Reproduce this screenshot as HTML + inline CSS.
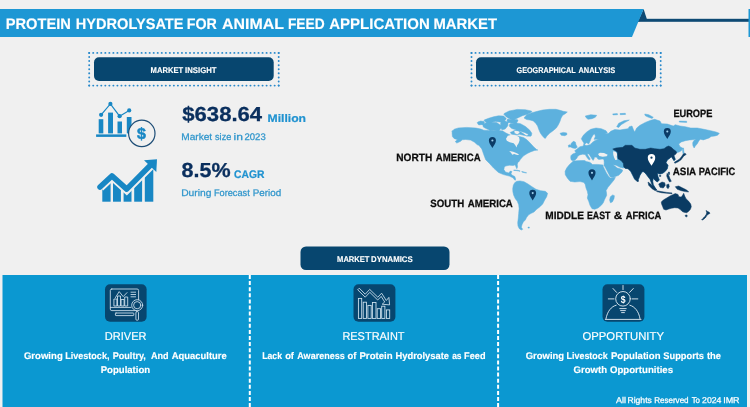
<!DOCTYPE html>
<html lang="en">
<head>
<meta charset="utf-8">
<title>Protein Hydrolysate for Animal Feed Application Market</title>
<style>
html,body{margin:0;padding:0;background:#f0f0f0;}
body{width:750px;height:407px;overflow:hidden;font-family:"Liberation Sans",sans-serif;}
svg{display:block;position:absolute;left:0;top:0;}
text{font-family:"Liberation Sans",sans-serif;text-rendering:geometricPrecision;}
.b{font-weight:700;}
</style>
</head>
<body>
<svg width="750" height="407" viewBox="0 0 750 407">
<rect width="750" height="407" fill="#f0f0f0"/>

<!-- HEADER -->
<g id="header">
<rect x="638" y="18.8" width="112" height="3" fill="#0e4a74"/>
<polygon points="637.8,21.8 643.6,9 646.9,19.2" fill="#0e4a74"/>
<polygon points="0,9 643.6,9 632,37 0,37" fill="#1d97d4"/>
<rect x="748.5" y="9" width="1.5" height="28" fill="#1d97d4"/>
<text y="29.4" class="b" font-size="15.2" fill="#fff" stroke="#fff" stroke-width="0.15" xml:space="preserve"><tspan x="5.72" textLength="65.17" lengthAdjust="spacingAndGlyphs">PROTEIN</tspan> <tspan x="75.85" textLength="107.61" lengthAdjust="spacingAndGlyphs">HYDROLYSATE</tspan> <tspan x="186.74" textLength="30.15" lengthAdjust="spacingAndGlyphs">FOR</tspan> <tspan x="222.0" textLength="61.68" lengthAdjust="spacingAndGlyphs">ANIMAL</tspan> <tspan x="287.88" textLength="36.7" lengthAdjust="spacingAndGlyphs">FEED</tspan> <tspan x="329.23" textLength="100.57" lengthAdjust="spacingAndGlyphs">APPLICATION</tspan> <tspan x="433.41" textLength="63.55" lengthAdjust="spacingAndGlyphs">MARKET</tspan></text>
</g>

<!-- SECTION PILLS -->
<g id="pills">
<path d="M89.2,52.9H278.7M89.2,85.6H278.7" fill="none" stroke="#2889cb" stroke-width="1.9" stroke-linecap="round" stroke-dasharray="0.1 3.932" stroke-dashoffset="0.05"/><path d="M89.2,52.9V85.6M278.7,52.9V85.6" fill="none" stroke="#2889cb" stroke-width="1.9" stroke-linecap="round" stroke-dasharray="0.1 3.987" stroke-dashoffset="0.05"/>
<rect x="94" y="57.2" width="179.7" height="23.7" rx="5" fill="#07466f"/>
<text y="73.0" class="b" font-size="8.2" fill="#fff" stroke="#fff" stroke-width="0.12" xml:space="preserve"><tspan x="150.59" textLength="32.59" lengthAdjust="spacingAndGlyphs">MARKET</tspan> <tspan x="185.08" textLength="31.4" lengthAdjust="spacingAndGlyphs">INSIGHT</tspan></text>

<path d="M471.5,52.9H660.7M471.5,85.6H660.7" fill="none" stroke="#2889cb" stroke-width="1.9" stroke-linecap="round" stroke-dasharray="0.1 3.926" stroke-dashoffset="0.05"/><path d="M471.5,52.9V85.6M660.7,52.9V85.6" fill="none" stroke="#2889cb" stroke-width="1.9" stroke-linecap="round" stroke-dasharray="0.1 3.987" stroke-dashoffset="0.05"/>
<rect x="476" y="57.2" width="180" height="23.7" rx="5" fill="#07466f"/>
<text y="73.0" class="b" font-size="8.2" fill="#fff" stroke="#fff" stroke-width="0.12" xml:space="preserve"><tspan x="516.5" textLength="59.12" lengthAdjust="spacingAndGlyphs">GEOGRAPHICAL</tspan> <tspan x="578.52" textLength="36.66" lengthAdjust="spacingAndGlyphs">ANALYSIS</tspan></text>

<rect x="300.5" y="246.5" width="149" height="23.5" rx="5.5" fill="#07466f"/>
<text y="262.0" class="b" font-size="8.2" fill="#fff" stroke="#fff" stroke-width="0.12" xml:space="preserve"><tspan x="337.09" textLength="32.39" lengthAdjust="spacingAndGlyphs">MARKET</tspan> <tspan x="371.08" textLength="41.63" lengthAdjust="spacingAndGlyphs">DYNAMICS</tspan></text>
</g>

<!-- STATS -->
<g id="stats">
<text y="120.9" class="b" font-size="20.3" fill="#0a2f5e" stroke="#0a2f5e" stroke-width="0.3" xml:space="preserve"><tspan x="182.31" textLength="79.81" lengthAdjust="spacingAndGlyphs">$638.64</tspan></text>
<text y="121.8" class="b" font-size="11.0" fill="#1f92d0" stroke="#1f92d0" stroke-width="0.2" xml:space="preserve"><tspan x="267.49" textLength="38.57" lengthAdjust="spacingAndGlyphs">Million</tspan></text>
<text y="139.8" font-size="9.6" fill="#3096cc" stroke="#3096cc" stroke-width="0.25" xml:space="preserve"><tspan x="181.27" textLength="30.9" lengthAdjust="spacingAndGlyphs">Market</tspan> <tspan x="215.05" textLength="16.26" lengthAdjust="spacingAndGlyphs">size</tspan> <tspan x="233.59" textLength="9.39" lengthAdjust="spacingAndGlyphs">in</tspan> <tspan x="244.52" textLength="21.2" lengthAdjust="spacingAndGlyphs">2023</tspan></text>
<text y="176.8" class="b" font-size="20.3" fill="#0a2f5e" stroke="#0a2f5e" stroke-width="0.3" xml:space="preserve"><tspan x="181.62" textLength="49.05" lengthAdjust="spacingAndGlyphs">8.5%</tspan></text>
<text y="177.6" class="b" font-size="11.0" fill="#1f92d0" stroke="#1f92d0" stroke-width="0.2" xml:space="preserve"><tspan x="233.98" textLength="30.44" lengthAdjust="spacingAndGlyphs">CAGR</tspan></text>
<text y="196.4" font-size="9.6" fill="#3096cc" stroke="#3096cc" stroke-width="0.25" xml:space="preserve"><tspan x="181.16" textLength="30.31" lengthAdjust="spacingAndGlyphs">During</tspan> <tspan x="213.94" textLength="35.82" lengthAdjust="spacingAndGlyphs">Forecast</tspan> <tspan x="252.79" textLength="28.44" lengthAdjust="spacingAndGlyphs">Period</tspan></text>
</g>


<!-- STAT ICONS -->
<g id="icon-market" fill="#1887c4">
<rect x="98.7" y="119.2" width="4.6" height="14.2"/>
<rect x="108.1" y="112.6" width="4.9" height="20.8"/>
<rect x="117.5" y="121.5" width="4.5" height="11.9"/>
<rect x="126.8" y="117" width="4.7" height="16.4"/>
<rect x="96.1" y="134.4" width="30.2" height="2.5"/>
<polyline points="101.1,114.8 110.4,103.9 119.6,116.2 129.2,110.4" fill="none" stroke="#1887c4" stroke-width="1.2"/>
<circle cx="101.1" cy="114.8" r="2.1"/><circle cx="110.4" cy="103.9" r="2.1"/><circle cx="119.6" cy="116.2" r="2.1"/><circle cx="129.2" cy="110.4" r="2.1"/>
<circle cx="141.8" cy="133.4" r="13.2" fill="#f0f0f0" stroke="#1d4d76" stroke-width="1.2"/>
<text x="141.4" y="139.2" class="b" font-size="16" text-anchor="middle" fill="#1887c4" stroke="#1887c4" stroke-width="0.5">$</text>
</g>
<g id="icon-cagr" fill="#1887c4">
<rect x="102.3" y="180" width="8.3" height="21.7"/>
<rect x="113" y="180" width="7.9" height="21.7"/>
<rect x="123.6" y="186" width="7.9" height="15.7"/>
<rect x="134.2" y="178" width="7.9" height="23.7"/>
<rect x="144.8" y="168" width="8.5" height="33.7"/>
<polyline points="100,187.1 111.9,175.9 126.7,189.1 151.5,164.5" fill="none" stroke="#f0f0f0" stroke-width="9.2" stroke-linejoin="miter" stroke-linecap="butt"/>
<polyline points="100,187.1 111.9,175.9 126.7,189.1 150.4,165.3" fill="none" stroke="#1887c4" stroke-width="5.5" stroke-linejoin="round" stroke-linecap="round"/>
<polygon points="144,160.2 157,159.3 156.3,171.9"/>
</g>

<!-- MAP -->
<g id="map">
<path d="M452,131.4 454.2,129.2 458.4,127.9 466.7,127.4 475.9,128 480.9,129.1 483.8,130.2 488.5,130.6 493.5,129.9 498.5,130.4 502.7,130.9 506,133.1 510.2,135.1 515.2,135.4 519.4,136.4 523.6,137.6 526.9,139.7 530.2,143.1 533.6,146.8 536.9,149.8 537.9,150 534.4,150.5 530.4,152 527.3,153.5 523.3,156 520.3,159.6 518.8,161.9 518.2,161.7 517.3,164.2 517.5,167.1 516.8,168.7 515.7,166.3 515,164.8 513.3,165.5 509.3,165.2 505.4,166.1 504.3,167.3 503.9,169.6 505.4,172 508.8,173 510.3,171.1 511.9,171.5 510.9,174 512.8,175.5 514.8,176.5 515.6,178.9 515.4,180.2 514.2,179.6 513.2,177.9 509.3,176.1 503.4,174.6 498.5,172.5 493.6,168.1 489.7,163.7 485.7,159.7 483.8,154.8 481.8,148.9 478.8,145.2 477.3,144.8 474.5,142.2 470.6,140.1 465.7,139.5 462.2,139.8 460.7,141.2 456.8,143.1 455.2,141.6 457.5,139.7 454,138.4 452.4,136.5 452.1,133 452.3,130.6ZM504,114.6 506.4,117 510.1,119 514.4,119.5 522.4,115.7 527.9,114.1 531.4,112.3 531.8,111.9 531.7,111.3 531.3,111 525.4,109.7 517.2,109.4 509.1,111 504.2,113.5 503.8,114ZM484.1,120.6 486.3,122.8 486.9,123 495.7,121.4 499.7,122 503.8,121.4 506,119.3 506.2,118.8 506,118.3 504,116.3 503.5,116.1 498.5,115.8 493.5,116.8 488.6,118.3 484.6,119.8 484.2,120.1ZM482.7,124.6 483.2,126.8 483.6,127.2 486.5,128.8 490.4,130.5 494.7,130.1 498.7,130.6 499.4,130.3 501.2,128 501.2,127.3 500.2,124.9 496.7,122.6 491.6,122.2 486.7,122.7 483.2,123.7 482.8,124ZM500.7,122.4 500.5,126.2 501.5,129.3 501.9,129.7 502.3,129.8 505.2,129 507.8,125.8 508.1,122.4 504.8,120.8 504.3,120.7 501.2,121.7ZM507,120.2 507.4,121.9 508,122.4 511.4,123 516.3,122.9 516.9,122.5 517.9,120.7 517.9,120.1 517.4,119.7 512.3,118.7 507.6,119.3 507.1,119.6ZM509.7,124.2 509.3,125.7 509.5,126.4 511.8,128.5 515.1,129.5 519,131 522.8,133.3 526.7,136.1 530.6,136.2 531.3,135.7 531.8,133.7 531.7,133.1 529.6,130.1 525.5,126.5 520.5,123.7 515.2,122.7 510.3,123.7ZM514.1,131.2 514.4,133.1 514.8,133.6 517,134.6 517.7,134.5 519.5,133 519.8,132.6 519.7,132.1 518.4,130.2 517.7,129.9 514.7,130.4 514.2,130.7ZM477.4,123.1 478.3,124.6 479,124.9 483,124.4 483.5,124.1 484.6,122.1 484,121.5 480.7,121 477.8,122 477.3,122.5ZM510.2,132.4 514.7,130.4 519.6,130.9 524.5,132.4 528.4,134.3 527.4,135.8 523.5,135.3 519.6,134.3 515.6,134.8 511.7,134.3ZM524,118 526.7,114.7 532,112.7 537.3,111.3 542.7,110 549.3,109.3 556,109.3 560,110.3 563.3,111.3 567.3,112 565.3,113.7 562.7,115.3 561.1,118 560,121.3 558.4,124.7 556.3,128 553.1,130.7 549.6,133.3 546.9,136 545.3,138.4 544,137.7 542.1,135.6 540.3,132.9 538.7,129.3 537.6,126 535.7,123.3 533.3,120.9 530,120 526.7,119.6ZM560,133.3 563.3,132.4 566.7,132.9 566.9,134.7 564.7,135.7 561.3,135.3ZM514.7,182.7 516.7,181.3 520,180.9 524,181.7 528,184 532,186.7 536,189.3 540.7,190.7 545.3,191.3 547.6,193.3 546.7,196.7 544.7,200 542.7,204 540,206.7 536.7,209.3 534,212 531.3,213.3 528.7,214.7 526.7,217.3 525.3,220 523.3,222 522,224.7 521.3,227.3 522.7,229.3 521.3,230 519.3,228.7 518,226 517.7,222.7 518.3,218 518.7,213.3 519.1,208.7 518.7,204.7 517.3,201.3 515.3,198.7 513.7,195.3 512.9,192 512.7,188.7 513.3,185.3ZM528,227.1 529.3,227.1 529.3,228.1 528,228.1ZM513.7,170 517.3,170.2 520.1,170.9 520,171.3 516.9,170.7 513.8,170.4ZM521.8,171.6 524.3,172.1 526.5,172.7 526.4,173.1 524.1,172.6 521.8,172ZM573.4,161 576.8,160.7 581.7,160.5 584.7,160.5 586.1,161.5 589.6,162.2 591.1,163.2 592.5,164.5 597.4,164.4 602.9,164.9 602.9,165.7 604.4,168.9 606.3,172.7 608.3,176 610.4,178 615.3,177.3 615.3,177.6 614,180 611.3,183.3 608,187.3 606,190.7 606.4,192 606.7,195.3 604.7,199.3 603.3,202.7 601.3,205.3 598,208 594.7,209.3 592,208.7 590,205.3 588.7,201.3 587.3,198 588,194.7 587.3,191.3 586,188 585.3,184.7 584,182.4 580,181.6 574.7,182 570,181.3 567.3,178 565.3,174.7 565.1,171.3 566.7,168 569.3,164.7ZM610.4,196.7 612.7,194.9 614.4,195.7 614,198.7 612.3,202 610.4,202.7 609.6,200ZM581.3,138.7 583.3,135.3 586.7,132 590.7,129.3 596,128 601.3,128.7 606,130.7 607.3,132.7 605.3,134 608.7,133.3 610.7,131.3 614.7,129.6 620,130 624,129.3 628,128.7 629.3,126.7 632,126 633.3,129.3 634.7,132 636.7,128 640,125.3 645.3,122.4 650.7,120.3 654.7,119.3 660,121.1 661.6,123.7 667.3,124 673.3,126 675.3,124.7 680,126 685.3,126.7 690.7,128 697.3,128 704,129.3 710.7,130.7 716,132 719.3,133.3 717.6,135.2 715.1,135.9 711.1,136.4 709.2,137.9 703.3,139.9 700.3,139.2 698.8,140.9 697.3,143.7 695.3,146.1 694.1,148 692.9,145.6 692.7,142.8 693.9,140.4 696,138.9 692.7,139.7 689.3,140 685.3,140.7 681.3,142 678.7,144 680,146.7 682.4,148 681.6,150.4 679.7,151.7 677.6,152.5 673.3,153.3 674,156 675.3,159.3 674,160.7 672.7,158.7 671.3,156.7 670,158 667.3,160 666,162.7 668,165.3 667.3,168.7 665.3,171.3 662.7,173.3 660,174 657.3,173.3 658,176.7 659.3,180 657.3,182 654.7,180 653.3,178 652.7,181.3 653.3,184.7 655.3,188 656.7,190 654.7,188.7 652.7,186 651.3,182.7 650,179.3 648,176.7 646,174 644,172 640,170 645.3,170 642,172 640,175.3 638.7,178.7 637.3,181.3 634.7,179.3 632.7,175.3 630.7,171.3 628,168.7 625.3,168 622.7,168 620,167.3 616,165.3 613.3,164.7 614.7,166 617.3,168 620,168.7 622.7,170 622,172 618.7,175.3 613.3,177.3 610.4,177.1 609.1,174.7 607.3,171.3 605.6,168 604,165.2 604,165.8 604.2,162.6 603.9,159.4 602.4,159 598.9,159.4 597.6,158.8 597,157.3 594.5,157 594.1,158.8 593.1,160.4 591.7,158.5 590.2,155.9 588.8,153.9 587.2,153.7 588,155.5 589.3,157.5 590.3,159.2 589.2,160 587.6,158.3 586.2,156.3 585.2,154.5 582.7,154.2 579.7,154.9 577.8,156.3 576.8,158.3 574.8,160.2 572.5,160.8 571.1,159.8 570.7,157.7 570.9,155.7 572.4,154.2 572.7,154 576,152.7 574.7,150.7 576.7,149.3 580,146.7 583.3,146 584,143.3 585.3,145.3 586.7,145.6 590,144.7 592,142.7 594.7,140.7 598.7,139.3 594,139.3 595.3,136.7 594.9,134 593.3,134.7 591.3,138 590,141.3 588.7,144 586.7,142.7 584.7,144 582.7,141.3ZM570,146.7 571.3,143.3 573.3,141.3 575.3,142 576,144.7 577.3,147.3 575.3,148.4 572.7,148ZM568.3,145.3 570,144.7 570.4,146.7 568.7,147.3ZM585.3,116 590.7,114.7 596.7,115.3 595.3,117.3 592,118.7 588,119.3 586,117.6ZM616.7,126.7 618.7,123.3 624,120.7 629.3,120 625.6,122.1 621.1,124.8 618.7,127.5ZM644.7,114 648.7,114.7 653.3,117.3 652,118.4 648,117.1 645.3,115.7ZM612.7,113.9 617.3,113.6 617.6,114.7 613.1,114.9ZM620,113.6 625.3,113.3 625.6,114.4 620.3,114.7ZM679.3,121.1 686.7,121.3 686.7,122.4 679.3,122.1ZM682.4,148 683.5,148 684,153.3 682.9,153.6Z" fill="#5db1de" stroke="#5db1de" stroke-width="0.5" stroke-linejoin="round"/>
<path d="M506,138.8 507.8,135.8 511.7,134.8 516.1,135.3 519.1,137.3 519.6,140.2 518.6,143.2 517.2,145.2 516.5,147.4 515.3,145.2 513.7,143.2 509.7,142.2 506.8,140.7ZM509.2,151 513.2,151.8 516.3,153 519.3,154.5 517.3,155 514.2,154 512.2,154.8 511.2,153ZM598,154 600,152.7 604,153.1 607.7,154.7 606.7,156.3 602.7,156.7 599.3,156ZM613.1,151.3 615.7,151.7 617.3,154 616.7,156.7 617.3,159.7 615.3,160 614,157.3 613.3,154.7Z" fill="#f0f0f0"/>
<path d="M612.7,149.1 616,148 622.7,147.3 625.3,145.3 632,145.3 634.7,148 640,149.3 645.3,149.3 650.7,148 654.7,148.7 660,149.3 664,148.7 666.7,146.7 668.7,146 671.3,147.3 673.3,149.3 675.3,150.7 676.7,152 676,154 674,155.3 673.3,156.3 673.3,153.3 674,156 675.3,159.3 674,160.7 672.7,158.7 671.3,156.7 670,158 667.3,160 666,162.7 668,165.3 667.3,168.7 665.3,171.3 662.7,173.3 660,174 657.3,173.3 658,176.7 659.3,180 657.3,182 654.7,180 653.3,178 652.7,181.3 653.3,184.7 655.3,188 656.7,190 654.7,188.7 652.7,186 651.3,182.7 650,179.3 648,176.7 646,174 644,172 640,170 645.3,170 642,172 640,175.3 638.7,178.7 637.3,181.3 634.7,179.3 632.7,175.3 630.7,171.3 628,168.7 625.3,168.4 623.7,166.7 623.3,163.3 621.3,160.7 618,158.7 617.6,155.3 617.3,152ZM637.3,180.1 638.4,180.1 638.4,181.5 637.3,181.5ZM674.3,162.2 677.2,160.6 679.7,158.9 681.8,156.3 683.2,154.1 684.6,153.3 686.2,154.1 685.2,155.3 684,155.7 682.8,157.4 680.8,160 678.2,161.8 674.9,163.3ZM668.3,172.1 669.5,172.1 669.6,174.4 668.4,174.4ZM659.5,175.3 660.8,175.3 660.8,176.4 659.5,176.4ZM667.1,173.3 668.7,175.3 670,178.7 671.3,181.3 669.6,182 668,179.3 666.7,176ZM658.7,184 662,182 664.7,182.7 665.3,185.3 663.3,188 660,187.3ZM648,182 650.7,184 653.3,186.7 656.7,190 655.3,190.7 652,188.7 648.7,185.3ZM656.7,190.7 661.3,191.6 666.7,192.4 672,192.9 672,193.7 666.7,193.3 661.3,192.7 656.7,191.6ZM666.7,184.7 668.7,184 669.3,186.7 668,188.7 666.7,187.3ZM675.3,186.7 678.7,186 682.7,188 686.7,190 688.7,192 685.3,191.6 681.3,190.7 677.3,189.3ZM661.3,202 663.3,200 666.7,198 670,196 672.7,194.7 675.3,193.6 678,194.4 678.9,196.7 681.3,197.1 682.9,194.7 683.7,193.3 684.7,196 686,198.7 688.7,201.3 690.7,204 691.3,206.7 690.4,209.3 688.7,211.3 686.7,212.7 684,212.3 682,211.3 680,209.3 678,208 674.7,207.7 671.3,208.3 668.7,209.1 666,210 663.7,209.3 662.7,206.7 661.6,204ZM685.1,215.3 686.9,214.9 687.3,216.3 686,217.1ZM706,210.4 707.3,211.3 709.3,212.3 710,213.3 708,214.4 706.7,215.7 705.3,216 706.4,214 706.7,212.3ZM705.6,215.7 706.4,216.7 704.7,218.4 702.7,220 701.6,219.7 702.4,218.9 704,217.3Z" fill="#0a3b63" stroke="#0a3b63" stroke-width="0.5" stroke-linejoin="round"/>
<path d="M492.4,148 C490.46,144.70 488.88,143.16 488.88,140.52 A3.52,3.52 0 1 1 495.92,140.52 C495.92,143.16 494.34,144.70 492.4,148Z" fill="#0b3b66"/><circle cx="492.4" cy="140.52" r="1.06" fill="#9fd0ec"/>
<path d="M532.7,200.4 C530.82,197.19 529.28,195.69 529.28,193.12 A3.42,3.42 0 1 1 536.12,193.12 C536.12,195.69 534.58,197.19 532.7,200.4Z" fill="#0b3b66"/><circle cx="532.7" cy="193.12" r="1.03" fill="#9fd0ec"/>
<path d="M592,180.4 C590.05,177.07 588.45,175.52 588.45,172.85 A3.55,3.55 0 1 1 595.55,172.85 C595.55,175.52 593.95,177.07 592,180.4Z" fill="#0b3b66"/><circle cx="592" cy="172.85" r="1.07" fill="#9fd0ec"/>
<path d="M667.3,138.9 C665.38,135.63 663.81,134.10 663.81,131.49 A3.49,3.49 0 1 1 670.79,131.49 C670.79,134.10 669.22,135.63 667.3,138.9Z" fill="#0b3b66"/><circle cx="667.3" cy="131.49" r="1.05" fill="#9fd0ec"/>
<path d="M651.5,165.7 C649.44,162.19 647.76,160.55 647.76,157.74 A3.74,3.74 0 1 1 655.24,157.74 C655.24,160.55 653.56,162.19 651.5,165.7Z" fill="#ffffff"/><circle cx="651.5" cy="157.74" r="1.12" fill="#0a3b63"/>
</g>


<g id="map-labels">
<text y="161.2" class="b" font-size="10.6" fill="#0c0c0c" stroke="#0c0c0c" stroke-width="0.25" xml:space="preserve"><tspan x="396.32" textLength="35.96" lengthAdjust="spacingAndGlyphs">NORTH</tspan> <tspan x="435.76" textLength="44.89" lengthAdjust="spacingAndGlyphs">AMERICA</tspan></text>
<text y="207.0" class="b" font-size="10.6" fill="#0c0c0c" stroke="#0c0c0c" stroke-width="0.25" xml:space="preserve"><tspan x="430.32" textLength="33.93" lengthAdjust="spacingAndGlyphs">SOUTH</tspan> <tspan x="467.76" textLength="45.1" lengthAdjust="spacingAndGlyphs">AMERICA</tspan></text>
<text y="218.9" class="b" font-size="10.6" fill="#0c0c0c" stroke="#0c0c0c" stroke-width="0.25" xml:space="preserve"><tspan x="545.33" textLength="38.67" lengthAdjust="spacingAndGlyphs">MIDDLE</tspan> <tspan x="587.01" textLength="23.48" lengthAdjust="spacingAndGlyphs">EAST</tspan> <tspan x="613.88" textLength="8.48" lengthAdjust="spacingAndGlyphs">&amp;</tspan> <tspan x="625.77" textLength="35.48" lengthAdjust="spacingAndGlyphs">AFRICA</tspan></text>
<text y="116.7" class="b" font-size="10.6" fill="#0c0c0c" stroke="#0c0c0c" stroke-width="0.25" xml:space="preserve"><tspan x="673.38" textLength="38.98" lengthAdjust="spacingAndGlyphs">EUROPE</tspan></text>
<text y="174.7" class="b" font-size="10.6" fill="#0c0c0c" stroke="#0c0c0c" stroke-width="0.25" xml:space="preserve"><tspan x="672.76" textLength="23.1" lengthAdjust="spacingAndGlyphs">ASIA</tspan> <tspan x="698.79" textLength="36.46" lengthAdjust="spacingAndGlyphs">PACIFIC</tspan></text>
</g>

<!-- BOTTOM PANEL -->
<g id="panel">
<rect x="2.5" y="275" width="744.5" height="132" fill="#0b98d1"/>
<line x1="249.8" y1="275" x2="249.8" y2="407" stroke="#fff" stroke-width="2" stroke-dasharray="4 2.1"/>
<line x1="498.1" y1="275" x2="498.1" y2="407" stroke="#fff" stroke-width="2" stroke-dasharray="4 2.1"/>
<rect x="105" y="284.2" width="41.6" height="37.6" rx="5" fill="#07466f"/>
<rect x="353.5" y="284.2" width="41.9" height="37.6" rx="5" fill="#07466f"/>
<rect x="602.5" y="284.2" width="41.9" height="37.6" rx="5" fill="#07466f"/>

<g id="icon-driver" fill="none" stroke="#d3e5f1" stroke-width="0.85" stroke-linejoin="round" stroke-linecap="round">
<rect x="110.3" y="289" width="28.3" height="21.6" rx="1.5"/>
<line x1="110.5" y1="307.4" x2="131" y2="307.4"/>
<rect x="115.4" y="313" width="18.4" height="2.6" rx="0.6"/>
<rect x="114.3" y="299" width="2.6" height="7"/><rect x="117.9" y="296" width="2.6" height="10"/><rect x="121.5" y="299.5" width="2.6" height="6.5"/><rect x="125.1" y="297" width="2.6" height="9"/>
<polyline points="115.4,297.6 119.2,291.6 123.2,296.6 127,292.6"/>
<line x1="131" y1="292.2" x2="135.6" y2="292.2"/><line x1="131" y1="294.5" x2="135.6" y2="294.5"/><line x1="131" y1="296.8" x2="135.6" y2="296.8"/>
<circle cx="137.2" cy="305.2" r="5.5" fill="#07466f"/>
<circle cx="137.2" cy="305.2" r="3.6"/>
<rect x="135.9" y="311.6" width="2.6" height="8.6" rx="1" fill="#07466f"/>
</g>
<g id="icon-restraint" fill="none" stroke="#d3e5f1" stroke-width="0.85" stroke-linejoin="miter">
<rect x="358.4" y="298.4" width="3.3" height="20"/>
<rect x="363.2" y="302.2" width="3.3" height="16.2"/>
<rect x="367.9" y="305.4" width="3.3" height="13"/>
<rect x="372.4" y="302.5" width="3.6" height="15.9"/>
<rect x="377.2" y="308.7" width="3.4" height="9.7"/>
<rect x="381.7" y="306.2" width="3.2" height="12.2"/>
<rect x="386.5" y="309.9" width="3.2" height="8.5"/>
<path d="M359.3 288.2 L365.2 294.2 L369.7 289.4 L377.8 297.2 L381.6 293.2 L386.3 300.5 L388.9 297.4 L389.6 304.9 L382.2 304.2 L384.7 302 L381.2 296.4 L377.7 300 L369.8 292.3 L365.2 297.2 L357.7 289.8 Z"/>
</g>
<g id="icon-opportunity" fill="none" stroke="#e3eef6" stroke-width="0.9" stroke-linecap="round">
<circle cx="623" cy="298.8" r="7.3"/>
<line x1="623" y1="285.5" x2="623" y2="289.6"/>
<line x1="613" y1="288.5" x2="616.6" y2="292.4"/>
<line x1="633.3" y1="288.5" x2="629.6" y2="292.4"/>
<line x1="608.3" y1="298.9" x2="614" y2="298.9"/>
<line x1="632" y1="298.9" x2="637.8" y2="298.9"/>
<line x1="619.8" y1="308.6" x2="626.2" y2="308.6"/>
<line x1="620.6" y1="310.6" x2="625.4" y2="310.6"/>
<line x1="621.6" y1="312.6" x2="624.4" y2="312.6"/>
<path d="M606 318.6 C607.3 311.5 611.2 306.4 616.2 305.2 M629.8 305.2 C634.8 306.4 638.8 311.5 640 318.6"/>
<line x1="605.3" y1="319.4" x2="641" y2="319.4"/>
<text x="620.7" y="302.7" class="b" font-size="10.2" fill="#fff" stroke="none" textLength="4.8" lengthAdjust="spacingAndGlyphs">$</text>
</g>
<text y="340.3" font-size="11.4" fill="#fff" stroke="#fff" stroke-width="0.15" xml:space="preserve"><tspan x="104.79" textLength="41.72" lengthAdjust="spacingAndGlyphs">DRIVER</tspan></text>
<text y="340.3" font-size="11.4" fill="#fff" stroke="#fff" stroke-width="0.15" xml:space="preserve"><tspan x="342.4" textLength="62.15" lengthAdjust="spacingAndGlyphs">RESTRAINT</tspan></text>
<text y="340.3" font-size="11.4" fill="#fff" stroke="#fff" stroke-width="0.15" xml:space="preserve"><tspan x="582.47" textLength="81.48" lengthAdjust="spacingAndGlyphs">OPPORTUNITY</tspan></text>
<text y="358.7" class="b" font-size="9.7" fill="#fff" stroke="#fff" stroke-width="0.15" xml:space="preserve"><tspan x="23.91" textLength="38.83" lengthAdjust="spacingAndGlyphs">Growing</tspan> <tspan x="65.3" textLength="44.11" lengthAdjust="spacingAndGlyphs">Livestock,</tspan> <tspan x="112.7" textLength="33.19" lengthAdjust="spacingAndGlyphs">Poultry,</tspan> <tspan x="150.97" textLength="17.62" lengthAdjust="spacingAndGlyphs">And</tspan> <tspan x="171.77" textLength="54.96" lengthAdjust="spacingAndGlyphs">Aquaculture</tspan></text>
<text y="373.3" class="b" font-size="9.7" fill="#fff" stroke="#fff" stroke-width="0.15" xml:space="preserve"><tspan x="100.66" textLength="49.54" lengthAdjust="spacingAndGlyphs">Population</tspan></text>
<text y="358.7" class="b" font-size="9.7" fill="#fff" stroke="#fff" stroke-width="0.15" xml:space="preserve"><tspan x="262.22" textLength="19.77" lengthAdjust="spacingAndGlyphs">Lack</tspan> <tspan x="285.13" textLength="8.85" lengthAdjust="spacingAndGlyphs">of</tspan> <tspan x="297.28" textLength="47.49" lengthAdjust="spacingAndGlyphs">Awareness</tspan> <tspan x="347.53" textLength="8.85" lengthAdjust="spacingAndGlyphs">of</tspan> <tspan x="359.45" textLength="33.24" lengthAdjust="spacingAndGlyphs">Protein</tspan> <tspan x="395.47" textLength="53.55" lengthAdjust="spacingAndGlyphs">Hydrolysate</tspan> <tspan x="452.15" textLength="9.39" lengthAdjust="spacingAndGlyphs">as</tspan> <tspan x="464.09" textLength="21.42" lengthAdjust="spacingAndGlyphs">Feed</tspan></text>
<text y="358.7" class="b" font-size="9.7" fill="#fff" stroke="#fff" stroke-width="0.15" xml:space="preserve"><tspan x="525.71" textLength="38.42" lengthAdjust="spacingAndGlyphs">Growing</tspan> <tspan x="566.6" textLength="41.09" lengthAdjust="spacingAndGlyphs">Livestock</tspan> <tspan x="610.96" textLength="49.54" lengthAdjust="spacingAndGlyphs">Population</tspan> <tspan x="663.33" textLength="40.65" lengthAdjust="spacingAndGlyphs">Supports</tspan> <tspan x="706.99" textLength="14.03" lengthAdjust="spacingAndGlyphs">the</tspan></text>
<text y="373.3" class="b" font-size="9.7" fill="#fff" stroke="#fff" stroke-width="0.15" xml:space="preserve"><tspan x="573.51" textLength="33.49" lengthAdjust="spacingAndGlyphs">Growth</tspan> <tspan x="609.9" textLength="63.19" lengthAdjust="spacingAndGlyphs">Opportunities</tspan></text>
<text y="403.1" font-size="8.4" fill="#fff" stroke="#fff" stroke-width="0.25" xml:space="preserve"><tspan x="616.08" textLength="9.91" lengthAdjust="spacingAndGlyphs">All</tspan> <tspan x="627.5" textLength="24.31" lengthAdjust="spacingAndGlyphs">Rights</tspan> <tspan x="654.14" textLength="34.48" lengthAdjust="spacingAndGlyphs">Reserved</tspan> <tspan x="691.64" textLength="8.36" lengthAdjust="spacingAndGlyphs">To</tspan> <tspan x="702.06" textLength="19.39" lengthAdjust="spacingAndGlyphs">2024</tspan> <tspan x="723.17" textLength="16.44" lengthAdjust="spacingAndGlyphs">IMR</tspan></text>
</g>
</svg>
</body>
</html>
